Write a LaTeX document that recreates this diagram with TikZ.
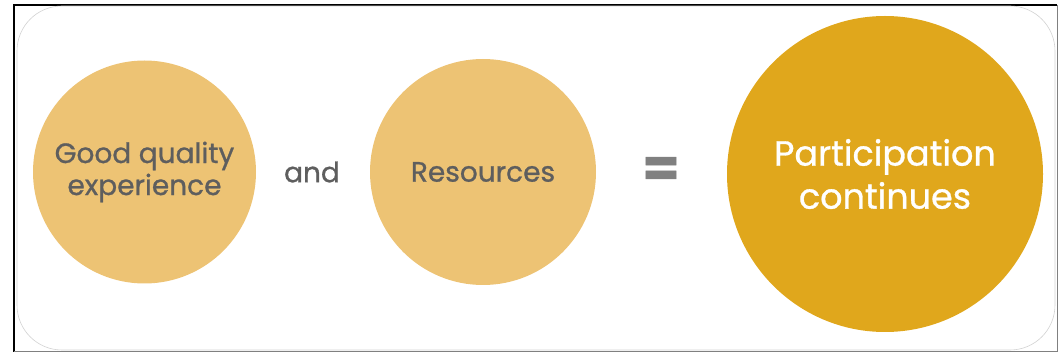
\documentclass[tikz,border=0pt]{standalone}
\usepackage{fontspec}
\setmainfont{Poppins}[FakeBold=0.9]
\definecolor{lightgold}{HTML}{EDC374}
\definecolor{darkgold}{HTML}{E0A71C}
\definecolor{txtgray}{HTML}{5E5E5E}
\tikzset{
	bubble/.style={shape=circle,fill=lightgold,text=txtgray,align=center,inner sep=0pt,font=\fontsize{28}{32}\selectfont},
	word/.style={text=txtgray,inner sep=0pt,font=\fontsize{28}{32}\selectfont}
}
\begin{document}
\begin{tikzpicture}[x=1pt,y=-1pt]
	\useasboundingbox (0,0) rectangle (1058,355);
	% frame
	\draw[line width=2pt] (14,352) -- (14,5) -- (1057,5);
	\draw[line width=1pt,gray] (1057,5) -- (1057,352) -- (14,352);
	\draw[rounded corners=45pt,gray!35,line width=0.6pt] (17,6) rectangle (1055,350);
	% circles
	\node[bubble,minimum size=223pt] (good) at (144.5,172) {Good quality\\experience};
	\node[word] (and) at (312,172) {and};
	\node[bubble,minimum size=226pt] (res) at (483,172) {Resources};
	\node[word,text=gray,font=\fontsize{54}{54}\bfseries] (eq) at (661,172) {=};
	\node[bubble,minimum size=316pt,fill=darkgold,text=white,font=\fontsize{35}{43}\selectfont] (part) at (885,174) {Participation\\continues};
\end{tikzpicture}
\end{document}
